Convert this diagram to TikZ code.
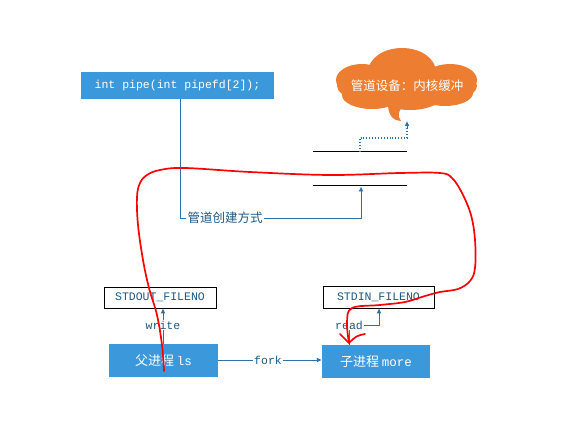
\documentclass[tikz,border=0pt]{standalone}
\usepackage{fontspec}
\newfontfamily\cjk{Noto Sans CJK SC}
\newfontfamily\mono{Liberation Mono}
\usetikzlibrary{arrows.meta}
\definecolor{boxblue}{RGB}{58,152,219}
\definecolor{conn}{RGB}{46,112,168}
\definecolor{txtblue}{RGB}{31,88,130}
\definecolor{cloudor}{RGB}{237,125,49}
\tikzset{
  bluebox/.style={fill=boxblue, draw=none, text=white, inner sep=0pt},
  fdbox/.style={draw=black, fill=white, text=txtblue, inner sep=0pt, line width=0.8pt},
  conline/.style={draw=conn, line width=0.9pt},
  arr/.style={-{Latex[length=5pt,width=5pt]}},
  lbl/.style={fill=white, text=txtblue, inner sep=1pt},
  monof/.style={font=\mono\fontsize{11.5}{13}\selectfont},
  cjkf/.style={font=\cjk\fontsize{12.5}{14}\selectfont},
}
\begin{document}
\begin{tikzpicture}[x=1pt,y=-1pt]
\useasboundingbox (0,0) rectangle (575,435);
% code box
\node[bluebox, minimum width=193pt, minimum height=27pt, monof] (code) at (177.5,85.5) {int pipe(int pipefd[2]);};
% pipe lines
\coordinate (ptl) at (313,152); \coordinate (ptr) at (407,152);
\coordinate (pbl) at (313,186); \coordinate (pbr) at (407,186);
\draw[line width=1pt] (ptl) -- (ptr);
\draw[line width=1pt] (pbl) -- (pbr);
\coordinate (pbot) at (361,186.5);
\coordinate (ptop) at (360,152);
% cloud
\begin{scope}
\fill[cloudor] (407,86) ellipse [x radius=70, y radius=21];
\fill[cloudor] (402,72) ellipse [x radius=34, y radius=24];
\fill[cloudor] (362,80) ellipse [x radius=26, y radius=16];
\fill[cloudor] (450,80) ellipse [x radius=27, y radius=16];
\fill[cloudor] (372,95) ellipse [x radius=30, y radius=14];
\fill[cloudor] (445,93) ellipse [x radius=28, y radius=13];
\fill[cloudor] (410,98) ellipse [x radius=30, y radius=12];
\fill[cloudor] (388,104) .. controls (388,116) and (394,121) .. (401,121) .. controls (397,116) and (398,110) .. (404,106) -- cycle;
\end{scope}
\node[text=white, cjkf] (cloud) at (407,86) {管道设备：内核缓冲};
\coordinate (cloudtail) at (407,121);
% dotted connector
\draw[conline, dotted, line width=1.1pt] (ptop) -- (360,138) -- (407,138) -- (407,128);
\draw[conline, arr] (407,129) -- (cloudtail);
% pipe creation connector
\node[lbl, cjkf, text=txtblue] (create) at (225,218) {管道创建方式};
\draw[conline] (code.south -| 180,0) -- (180,218) -- (create.west);
\draw[conline, arr] (create.east) -- (361,218) -- (pbot);
% fd boxes
\node[fdbox, monof, minimum width=112pt, minimum height=21pt] (stdout) at (160,297.5) {STDOUT\_FILENO};
\node[fdbox, monof, minimum width=111pt, minimum height=22pt] (stdin) at (378.5,297) {STDIN\_FILENO};
% process boxes
\node[bluebox, minimum width=109pt, minimum height=33pt] (parent) at (163.5,360.5) {\cjk\fontsize{13}{15}\selectfont 父进程 \mono\fontsize{12.5}{15}\selectfont ls};
\node[bluebox, minimum width=108pt, minimum height=33pt] (child) at (376,361.5) {\cjk\fontsize{13}{15}\selectfont 子进程 \mono\fontsize{12.5}{15}\selectfont more};
% write
\draw[conline, arr] (parent.north -| 163,0) -- (stdout.south -| 163,0);
\node[lbl, monof] (write) at (163,325) {write};
% fork
\draw[conline, arr] (parent.east |- 0,360) -- (child.west |- 0,360);
\node[lbl, monof] (fork) at (268,360) {fork};
% read
\draw[conline, arr] (child.north -| 349,0) -- (349,325) -- (379,325) -- (stdin.south -| 379,0);
\node[lbl, monof] (read) at (349,325) {read};
% red freehand curve
\draw[red, line width=1.7pt, line cap=round, line join=round] plot[smooth, tension=0.6] coordinates {
(164,371) (162,345) (157,315) (149,288) (143,260) (138,225) (137,197) (140,183) (147,175) (160,170) (185,168) (250,172) (330,175) (400,173) (440,173) (452,178) (462,193) (471,215) (475,240) (475,268) (470,281) (458,289) (440,292) (425,296) (405,302) (380,305) (352,308) (347,322) (349,343)};
\draw[red, line width=1.7pt, line cap=round, line join=round] (340,334) .. controls (344,338) .. (349,343) .. controls (356,336) .. (365,334);
\end{tikzpicture}
\end{document}
